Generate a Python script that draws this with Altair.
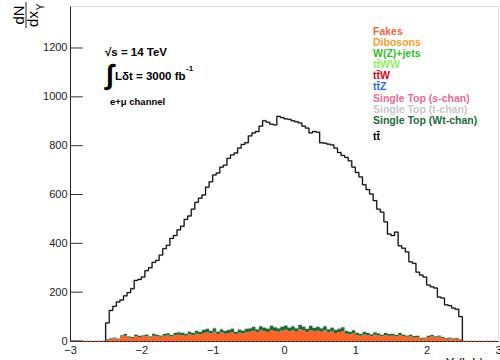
import altair as alt
import pandas as pd

# ---------------- data ----------------
bin_width = 0.05
x_start = -2.5

# height of the stacked total (black step line), 100 bins from -2.5 to 2.5
stack_total = [
    74, 125, 142, 160, 168, 185, 198, 214, 248, 252,
    262, 288, 300, 322, 330, 352, 378, 392, 420, 432,
    455, 470, 498, 512, 540, 568, 585, 598, 630, 652,
    680, 688, 712, 720, 748, 762, 770, 790, 805, 812,
    840, 852, 858, 880, 902, 896, 888, 885, 920, 915,
    910, 908, 902, 898, 893, 880, 872, 852, 858, 855,
    812, 810, 806, 803, 790, 772, 760, 752, 738, 712,
    690, 672, 640, 620, 602, 575, 540, 528, 488, 438,
    432, 446, 390, 380, 365, 324, 318, 282, 270, 262,
    229, 222, 217, 180, 176, 148, 145, 135, 130, 100,
]

fakes = [
    6, 8, 10, 7, 18, 22, 14, 12, 20, 16,
    18, 20, 14, 22, 19, 17, 21, 23, 18, 24,
    26, 25, 22, 28, 24, 30, 27, 33, 36, 31,
    38, 29, 35, 30, 33, 37, 28, 34, 31, 36,
    38, 42, 35, 44, 40, 37, 45, 41, 38, 43,
    46, 40, 44, 38, 48, 43, 36, 45, 39, 42,
    38, 44, 35, 40, 33, 37, 41, 30, 28, 32,
    25, 22, 27, 24, 20, 26, 23, 19, 24, 21,
    22, 18, 24, 20, 17, 19, 14, 16, 9, 10,
    16, 18, 14, 17, 12, 9, 10, 8, 9, 6,
]

wt_chan = [
    2, 3, 4, 3, 6, 7, 5, 4, 7, 6,
    6, 7, 5, 8, 7, 6, 8, 9, 7, 9,
    10, 9, 8, 11, 9, 12, 10, 13, 14, 11,
    14, 10, 13, 11, 12, 14, 10, 13, 12, 14,
    14, 15, 13, 16, 15, 14, 17, 15, 14, 16,
    17, 15, 16, 14, 18, 16, 14, 17, 15, 16,
    14, 16, 13, 15, 12, 14, 15, 11, 10, 12,
    9, 8, 10, 9, 8, 10, 9, 7, 9, 8,
    8, 7, 9, 7, 6, 7, 6, 6, 4, 4,
    6, 7, 5, 6, 4, 3, 4, 3, 3, 2,
]

t_chan = [
    1, 1, 1, 1, 2, 2, 1, 1, 2, 2,
    2, 2, 2, 2, 2, 2, 2, 3, 2, 3,
    3, 3, 2, 3, 3, 3, 3, 3, 3, 3,
    3, 3, 3, 3, 3, 3, 3, 3, 3, 3,
    3, 3, 3, 3, 3, 3, 3, 3, 3, 3,
    3, 3, 3, 3, 3, 3, 3, 3, 3, 3,
    3, 3, 3, 3, 3, 3, 3, 3, 3, 3,
    3, 2, 3, 2, 2, 3, 2, 2, 2, 2,
    2, 2, 2, 2, 2, 2, 2, 2, 1, 1,
    2, 2, 1, 2, 1, 1, 1, 1, 1, 1,
]

series_names = ["Fakes", "Single Top (Wt-chan)", "Single Top (t-chan)"]
series_colors = ["#ff6326", "#1b6b3a", "#cfcfcf"]
series_values = [fakes, wt_chan, t_chan]

x_ticks = [-3, -2, -1, 0, 1, 2, 3]
y_ticks = [0, 200, 400, 600, 800, 1000, 1200]

legend_labels = ["Fakes", "Dibosons", "W(Z)+jets", "tt\u0304WW", "tt\u0304W", "tt\u0304Z",
                 "Single Top (s-chan)", "Single Top (t-chan)", "Single Top (Wt-chan)", "tt\u0304"]
legend_colors = ["#f8653a", "#f7a02a", "#2bbf1f", "#8ef25a", "#e8000b", "#1f6cf0",
                 "#f06a9a", "#c8c8c8", "#1a6b3a", "#000000"]

# ---------------- tables ----------------
n = len(stack_total)
edges = [round(x_start + i * bin_width, 3) for i in range(n + 1)]

area_rows = []
base = [0.0] * n
for name, vals in zip(series_names, series_values):
    for i in range(n):
        area_rows.append({"series": name, "x": edges[i], "y0": base[i], "y1": base[i] + vals[i]})
    area_rows.append({"series": name, "x": edges[n], "y0": base[n - 1], "y1": base[n - 1] + vals[n - 1]})
    base = [base[i] + vals[i] for i in range(n)]
area_df = pd.DataFrame(area_rows)

line_rows = [{"x": edges[0], "y": 0}]
for i in range(n):
    line_rows.append({"x": edges[i], "y": stack_total[i]})
line_rows.append({"x": edges[n], "y": stack_total[-1]})
line_rows.append({"x": edges[n], "y": 0})
line_df = pd.DataFrame(line_rows)

tick_df = pd.DataFrame({"v": y_ticks, "x0": [-3] * len(y_ticks), "x1": [-2.82] * len(y_ticks)})
dummy = pd.DataFrame({"a": [0]})

FONT = "Liberation Sans"
x_scale = alt.Scale(domain=[-3, 3], nice=False, zero=False)
y_scale = alt.Scale(domain=[0, 1372], nice=False, zero=True)

x_axis = alt.Axis(values=x_ticks, ticks=False, labelPadding=3, grid=False, title=None, format="d",
                  domainColor="#222", labelColor="#222", labelFontSize=11, labelFont=FONT,
                  labelFlush=False)
y_axis = alt.Axis(values=y_ticks, ticks=False, labelPadding=3, grid=False, title=None, format="d",
                  domainColor="#222", labelColor="#222", labelFontSize=11, labelFont=FONT,
                  labelFlush=False)

areas = alt.Chart(area_df).mark_area(interpolate="step-after").encode(
    x=alt.X("x:Q", scale=x_scale, axis=x_axis),
    y=alt.Y("y1:Q", scale=y_scale, axis=y_axis),
    y2="y0:Q",
    color=alt.Color("series:N", scale=alt.Scale(domain=series_names, range=series_colors), legend=None),
)

bottom_dash = alt.Chart(dummy).mark_rule(color="#ff6326", strokeWidth=1.2, strokeDash=[2, 2]).encode(
    x=alt.value(0), x2=alt.value(428), y=alt.value(335)
)

halo = alt.Chart(line_df).mark_line(interpolate="step-after", color="#b4b4b4", strokeWidth=1.8).encode(
    x=alt.X("x:Q", scale=x_scale), y=alt.Y("y:Q", scale=y_scale)
)
total_line = alt.Chart(line_df).mark_line(interpolate="step-after", color="#000000", strokeWidth=1).encode(
    x=alt.X("x:Q", scale=x_scale), y=alt.Y("y:Q", scale=y_scale)
)

inner_ticks = alt.Chart(tick_df).mark_rule(color="#333333", strokeWidth=1).encode(
    y=alt.Y("v:Q", scale=y_scale),
    x=alt.X("x0:Q", scale=x_scale),
    x2="x1:Q",
)


def txt(text, x, y, size, color="#000000", bold=True, angle=0, align="left", baseline="middle"):
    return alt.Chart(dummy).mark_text(
        text=text, fontSize=size, font=FONT, fontWeight="bold" if bold else "normal",
        color=color, align=align, baseline=baseline, angle=angle,
    ).encode(x=alt.value(x), y=alt.value(y))


layers = [areas, bottom_dash, halo, total_line, inner_ticks]

# annotations
layers.append(txt("\u221as = 14 TeV", 35, 47, 11.5))
layers.append(txt("\u222b", 36, 70, 28, bold=True))
layers.append(txt("L\u03b4t = 3000 fb", 45, 71, 11.5))
layers.append(txt("-1", 116, 63, 8))
layers.append(txt("e+\u03bc channel", 40, 96, 9.5))

# legend
legend_y = [26, 37, 48, 59, 70, 81, 93, 104, 115, 131]
for lab, col, ly in zip(legend_labels, legend_colors, legend_y):
    layers.append(txt(lab, 303, ly, 10.5, color=col))

# axis titles
layers.append(txt("dN", -51, 9, 15, bold=False, angle=270, align="center"))
layers.append(txt("dx", -37, 13, 15, bold=False, angle=270, align="center"))
layers.append(txt("Y", -29, 1, 10, bold=False, angle=270, align="center"))
layers.append(alt.Chart(dummy).mark_rule(color="#222", strokeWidth=1).encode(
    x=alt.value(-44), y=alt.value(-4), y2=alt.value(22)))
layers.append(txt("x_Y (lab)", 362, 351, 13, bold=False, baseline="top"))

chart = alt.layer(*layers).properties(
    width=428, height=335,
    autosize=alt.AutoSizeParams(type="none"),
    padding={"left": 70, "top": 6, "right": 2, "bottom": 19},
).configure_view(stroke="#333", strokeWidth=1).configure(background="white")

chart.save("out.html", embed_options={"renderer": "svg", "actions": False})
